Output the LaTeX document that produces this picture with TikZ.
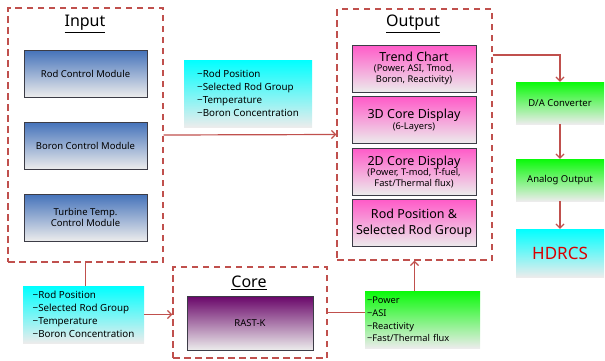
\documentclass[tikz,border=0pt]{standalone}
\usepackage{fontspec}
\setmainfont{Noto Sans}
\usetikzlibrary{positioning,arrows.meta}
\definecolor{linkred}{RGB}{192,80,77}
\definecolor{modblue}{RGB}{68,114,186}
\definecolor{fadegray}{RGB}{236,236,236}
\definecolor{outpink}{RGB}{255,90,200}
\definecolor{corepurple}{RGB}{105,5,105}
\definecolor{sigcyan}{RGB}{0,255,255}
\definecolor{siggreen}{RGB}{10,250,10}
\definecolor{edgegray}{RGB}{60,60,70}

\begin{document}
\begin{tikzpicture}[x=1pt, y=-1pt,
    group/.style={draw=linkred, line width=1.4pt, dash pattern=on 6.5pt off 4.5pt, inner sep=0pt},
    grouptitle/.style={font=\fontsize{16}{18}\selectfont},
    module/.style={draw=edgegray, line width=0.7pt, top color=modblue, bottom color=fadegray,
        minimum width=123pt, minimum height=47pt, align=center, font=\fontsize{9.5}{11.5}\selectfont},
    display/.style={draw=edgegray, line width=0.7pt, top color=outpink, bottom color=fadegray,
        minimum width=124pt, minimum height=47pt, align=center, inner sep=1pt},
    signal/.style={top color=#1, bottom color=fadegray, align=left, inner sep=2pt,
        font=\fontsize{9.8}{12.8}\selectfont},
    stage/.style={top color=#1, bottom color=fadegray, minimum width=88pt, align=center},
    link/.style={draw=linkred, line width=1.2pt},
    tip/.style={link, -{Straight Barb[length=4pt,width=8pt,line width=1.2pt]}}]

    \useasboundingbox (0,0) rectangle (605,360);

    % Input group with the three control modules
    \node[group, minimum width=155pt, minimum height=254pt] (input) at (85.5,135) {};
    \node[grouptitle] (inputtitle) at (85,24) {\underline{Input}};
    \foreach \name/\y/\txt in {rodctl/73.5/Rod Control Module,
                                boronctl/145.5/Boron Control Module,
                                turbctl/217.5/Turbine Temp.\\Control Module} {
        \node[module] (\name) at (85.5,\y) {\txt};
    }

    % Output group with the displays
    \node[group, minimum width=155pt, minimum height=251pt] (output) at (414.5,134.5) {};
    \node[grouptitle] (outputtitle) at (413,24) {\underline{Output}};
    \node[display] (trend) at (414,68.5) {{\fontsize{12.5}{14}\selectfont Trend Chart}\\[-2pt]
        {\fontsize{9.3}{10}\selectfont (Power, ASI, Tmod,}\\[-1pt]{\fontsize{9.3}{10}\selectfont Boron, Reactivity)}};
    \node[display] (disp3d) at (414,120) {{\fontsize{12.5}{14}\selectfont 3D Core Display}\\[-1pt]
        {\fontsize{9.3}{10}\selectfont (6-Layers)}};
    \node[display] (disp2d) at (414,171.5) {{\fontsize{12.5}{14}\selectfont 2D Core Display}\\[-2pt]
        {\fontsize{9.3}{10}\selectfont (Power, T-mod, T-fuel,}\\[-1pt]{\fontsize{9.3}{10}\selectfont Fast/Thermal flux)}};
    \node[display, font=\fontsize{12.5}{15.5}\selectfont] (rodpos) at (414,223) {Rod Position \&\\Selected Rod Group};

    % Core group
    \node[group, minimum width=154pt, minimum height=91pt] (core) at (250,312.5) {};
    \node[grouptitle] (coretitle) at (249,283) {\underline{Core}};
    \node[module, top color=corepurple, minimum width=126pt, minimum height=54pt] (rastk) at (250,323) {RAST-K};

    % Signal lists
    \node[signal=sigcyan, minimum width=128pt, minimum height=67pt] (sigtop) at (248,93.5)
        {−Rod Position\\−Selected Rod Group\\−Temperature\\−Boron Concentration};
    \node[signal=sigcyan, minimum width=121pt, minimum height=57pt] (sigin) at (83.5,314.5)
        {−Rod Position\\−Selected Rod Group\\−Temperature\\−Boron Concentration};
    \node[signal=siggreen, text width=111pt, minimum height=57pt, font=\fontsize{9.3}{12.6}\selectfont] (sigout) at (422.5,319.5)
        {−Power\\−ASI\\−Reactivity\\−Fast/Thermal flux};

    % Analog output chain
    \node[stage=siggreen, minimum height=42pt, font=\fontsize{9.5}{11}\selectfont] (dac) at (560,103) {D/A Converter};
    \node[stage=siggreen, minimum height=42pt, font=\fontsize{9.5}{11}\selectfont] (analog) at (560,180) {Analog Output};
    \node[stage=sigcyan, minimum height=48pt, text=red!85!black, font=\fontsize{17}{19}\selectfont] (hdrcs) at (560,253) {HDRCS};

    % Connectors
    \draw[tip] (input.east) -- (output.west);
    \draw[link] (input.south) -- (input.south |- sigin.north);
    \draw[tip] (sigin.east) -- (sigin.east -| core.west);
    \draw[link] (core.east) -- (core.east -| sigout.west);
    \draw[tip] (output.south |- sigout.north) -- (output.south);
    \coordinate (outtap) at (output.east |- 0,55);
    \draw[tip] (outtap) -| (dac.north);
    \draw[tip] (dac) -- (analog);
    \draw[tip] (analog) -- (hdrcs);
\end{tikzpicture}
\end{document}
